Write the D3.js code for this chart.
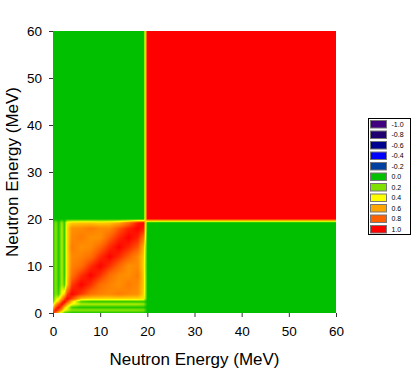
<!DOCTYPE html>
<html>
<head>
<meta charset="utf-8">
<script src="https://cdn.jsdelivr.net/npm/d3@7"></script>
<style>
  body { margin: 0; background: #fff; }
  svg { display: block; font-family: Arial, "Liberation Sans", sans-serif; }
</style>
</head>
<body>
<svg id="chart" width="415" height="369"></svg>
<script>
// energy grid (MeV) of the low-energy block
var lowNodes = [0, 0.6, 1.2, 1.9, 2.4, 3.0, 4, 6, 8, 10, 12, 14, 16, 18, 19.2];
// grid of the high-energy block
var highNodes = [20, 60];
var highBlockCorr = 1.0;
var crossCorr = 0.0;

// correlation at the low-energy grid nodes (rows = y energy, cols = x energy)
var lowCorr = [
  [1.00, 0.75, 0.50, 0.30, 0.15, 0.08, 0.04, 0.04, 0.04, 0.04, 0.04, 0.04, 0.04, 0.04, 0.04],
  [0.75, 1.00, 0.85, 0.60, 0.40, 0.32, 0.22, 0.22, 0.22, 0.22, 0.22, 0.22, 0.22, 0.22, 0.20],
  [0.50, 0.85, 1.00, 0.82, 0.55, 0.40, 0.10, 0.05, 0.05, 0.05, 0.05, 0.05, 0.05, 0.05, 0.05],
  [0.30, 0.60, 0.82, 1.00, 0.88, 0.62, 0.42, 0.28, 0.28, 0.28, 0.28, 0.28, 0.28, 0.28, 0.25],
  [0.15, 0.40, 0.55, 0.88, 1.00, 0.85, 0.50, 0.10, 0.06, 0.06, 0.06, 0.06, 0.06, 0.06, 0.06],
  [0.08, 0.32, 0.40, 0.62, 0.85, 1.00, 0.86, 0.52, 0.48, 0.48, 0.48, 0.48, 0.48, 0.48, 0.45],
  [0.04, 0.22, 0.10, 0.42, 0.50, 0.86, 1.00, 0.88, 0.75, 0.70, 0.68, 0.72, 0.68, 0.66, 0.50],
  [0.04, 0.22, 0.05, 0.28, 0.10, 0.52, 0.88, 1.00, 0.90, 0.76, 0.70, 0.66, 0.72, 0.68, 0.52],
  [0.04, 0.22, 0.05, 0.28, 0.06, 0.48, 0.75, 0.90, 1.00, 0.90, 0.76, 0.68, 0.66, 0.72, 0.52],
  [0.04, 0.22, 0.05, 0.28, 0.06, 0.48, 0.70, 0.76, 0.90, 1.00, 0.90, 0.78, 0.66, 0.68, 0.50],
  [0.04, 0.22, 0.05, 0.28, 0.06, 0.48, 0.68, 0.70, 0.76, 0.90, 1.00, 0.91, 0.80, 0.68, 0.52],
  [0.04, 0.22, 0.05, 0.28, 0.06, 0.48, 0.72, 0.66, 0.68, 0.78, 0.91, 1.00, 0.92, 0.82, 0.58],
  [0.04, 0.22, 0.05, 0.28, 0.06, 0.48, 0.68, 0.72, 0.66, 0.66, 0.80, 0.92, 1.00, 0.93, 0.75],
  [0.04, 0.22, 0.05, 0.28, 0.06, 0.48, 0.66, 0.68, 0.72, 0.68, 0.68, 0.82, 0.93, 1.00, 0.95],
  [0.04, 0.20, 0.05, 0.25, 0.06, 0.45, 0.50, 0.52, 0.52, 0.50, 0.52, 0.58, 0.75, 0.95, 1.00]
];

var legendLevels = [-1.0, -0.8, -0.6, -0.4, -0.2, 0.0, 0.2, 0.4, 0.6, 0.8, 1.0];
var legendColors = ["#400080", "#200070", "#000090", "#0000ff", "#0040a0", "#00c000",
                    "#80e000", "#ffff00", "#ffa500", "#ff6000", "#ff0000"];
var axisTicks = [0, 10, 20, 30, 40, 50, 60];
var axisTitle = "Neutron Energy (MeV)";

var svg = d3.select("#chart");

var x = d3.scaleLinear().domain([0, 60]).range([53, 336]);
var y = d3.scaleLinear().domain([0, 60]).range([313, 31]);
var color = d3.scaleLinear().domain(legendLevels).range(legendColors).clamp(true);

var nodes = lowNodes.concat(highNodes);
var nLow = lowNodes.length;

function nodeValue(i, j) {
  if (i < nLow && j < nLow) return lowCorr[i][j];
  if (i >= nLow && j >= nLow) return highBlockCorr;
  return crossCorr;
}

function cellIndex(e) {
  var k = d3.bisectRight(nodes, e) - 1;
  return Math.max(0, Math.min(nodes.length - 2, k));
}

function corrAt(ex, ey) {
  var j = cellIndex(ex), i = cellIndex(ey);
  var tx = (ex - nodes[j]) / (nodes[j + 1] - nodes[j]);
  var ty = (ey - nodes[i]) / (nodes[i + 1] - nodes[i]);
  tx = Math.max(0, Math.min(1, tx));
  ty = Math.max(0, Math.min(1, ty));
  var a = nodeValue(i, j), b = nodeValue(i, j + 1),
      c = nodeValue(i + 1, j), d = nodeValue(i + 1, j + 1);
  return (a * (1 - tx) + b * tx) * (1 - ty) + (c * (1 - tx) + d * tx) * ty;
}

// heat map rendered to a canvas, placed as an image in the svg
var x0 = x.range()[0], x1 = x.range()[1],
    y0 = y.range()[1], y1 = y.range()[0],
    w = x1 - x0, h = y1 - y0;

var canvas = document.createElement("canvas");
canvas.width = w;
canvas.height = h;
var ctx = canvas.getContext("2d");
var img = ctx.createImageData(w, h);
for (var py = 0; py < h; py++) {
  var ey = y.invert(y0 + py + 0.5);
  for (var px = 0; px < w; px++) {
    var ex = x.invert(x0 + px + 0.5);
    var c = d3.rgb(color(corrAt(ex, ey)));
    var k = (py * w + px) * 4;
    img.data[k] = c.r;
    img.data[k + 1] = c.g;
    img.data[k + 2] = c.b;
    img.data[k + 3] = 255;
  }
}
ctx.putImageData(img, 0, 0);

svg.append("image")
    .attr("x", x0)
    .attr("y", y0)
    .attr("width", w)
    .attr("height", h)
    .attr("preserveAspectRatio", "none")
    .attr("href", canvas.toDataURL());

// axes
var xAxis = svg.append("g")
    .attr("transform", "translate(0," + y1 + ")")
    .call(d3.axisBottom(x).tickValues(axisTicks).tickSize(4).tickPadding(9));
var yAxis = svg.append("g")
    .attr("transform", "translate(" + x0 + ",0)")
    .call(d3.axisLeft(y).tickValues(axisTicks).tickSize(4).tickPadding(7));

[xAxis, yAxis].forEach(function(g) {
  g.select(".domain").remove();
  g.selectAll(".tick line").attr("stroke", "#333");
  g.selectAll(".tick text")
      .attr("fill", "#000")
      .style("font-size", "13.5px")
      .style("font-family", "Arial, 'Liberation Sans', sans-serif");
});

svg.append("text")
    .attr("x", (x0 + x1) / 2)
    .attr("y", 365)
    .attr("text-anchor", "middle")
    .style("font-size", "17px")
    .text(axisTitle);

svg.append("text")
    .attr("transform", "translate(18," + (y0 + y1) / 2 + ") rotate(-90)")
    .attr("text-anchor", "middle")
    .style("font-size", "17px")
    .text(axisTitle);

// legend
var legend = svg.append("g");
legend.append("rect")
    .attr("x", 368.5)
    .attr("y", 118.5)
    .attr("width", 42)
    .attr("height", 116)
    .attr("fill", "#fff")
    .attr("stroke", "#000")
    .attr("stroke-width", 1);

var item = legend.selectAll(".item")
    .data(legendLevels)
  .enter().append("g")
    .attr("class", "item")
    .attr("transform", function(d, i) { return "translate(370.5," + (120.5 + i * 10.5) + ")"; });

item.append("rect")
    .attr("width", 16)
    .attr("height", 7.5)
    .attr("fill", function(d) { return color(d); })
    .attr("stroke", "#777")
    .attr("stroke-width", 1);

item.append("text")
    .attr("x", 21)
    .attr("y", 4)
    .attr("dy", "0.35em")
    .style("font-size", "7px")
    .text(function(d) { return d.toFixed(1); });
</script>
</body>
</html>
